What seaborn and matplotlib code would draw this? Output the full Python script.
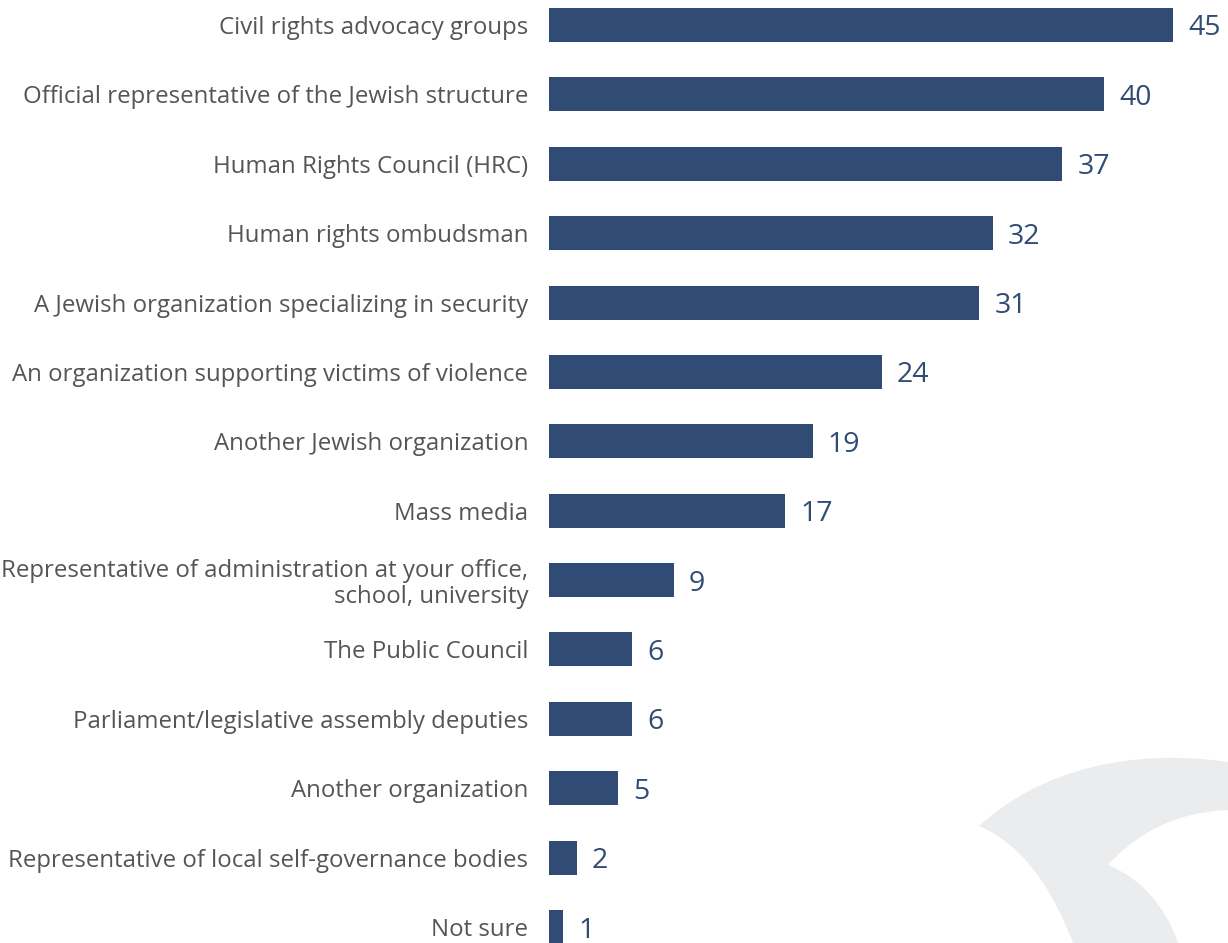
import numpy as np
import pandas as pd
import matplotlib
matplotlib.use("Agg")
from matplotlib import pyplot as plt
from matplotlib.patches import PathPatch
from matplotlib.path import Path
import seaborn as sns

categories = [
    "Civil rights advocacy groups",
    "Official representative of the Jewish structure",
    "Human Rights Council (HRC)",
    "Human rights ombudsman",
    "A Jewish organization specializing in security",
    "An organization supporting victims of violence",
    "Another Jewish organization",
    "Mass media",
    "Representative of administration at your office,\nschool, university",
    "The Public Council",
    "Parliament/legislative assembly deputies",
    "Another organization",
    "Representative of local self-governance bodies",
    "Not sure",
]
values = [45, 40, 37, 32, 31, 24, 19, 17, 9, 6, 6, 5, 2, 1]

df = pd.DataFrame({"category": categories, "value": values})

sns.set_theme(style="white")
plt.rcParams["font.family"] = ["Open Sans", "DejaVu Sans"]

bar_color = "#314c74"
label_color = "#555555"

fig = plt.figure(figsize=(12.28, 9.43), dpi=100)

# faint decorative shape in the corner
deco = fig.add_axes([0, 0, 1, 1], zorder=0)
deco.set_xlim(0, 1228)
deco.set_ylim(943, 0)
deco.axis("off")
verts = [(979, 826), (1040, 770), (1130, 748), (1228, 762),
         (1228, 810), (1180, 812), (1140, 830), (1108, 865),
         (1140, 878), (1165, 905), (1178, 943), (1073, 943),
         (1055, 895), (1025, 845), (979, 826)]
codes = [Path.MOVETO, Path.CURVE4, Path.CURVE4, Path.CURVE4,
         Path.LINETO, Path.CURVE4, Path.CURVE4, Path.CURVE4,
         Path.CURVE4, Path.CURVE4, Path.CURVE4, Path.LINETO,
         Path.CURVE4, Path.CURVE4, Path.CURVE4]
deco.add_patch(PathPatch(Path(verts, codes), facecolor="#ebecee", edgecolor="none"))

ax = fig.add_axes([549 / 1228, 0, 1 - 549 / 1228, 1], zorder=1)
ax.patch.set_alpha(0)
sns.barplot(data=df, x="value", y="category", orient="h", color=bar_color,
            width=0.49, saturation=1, linewidth=0, ax=ax)

ax.set_xlim(0, 48.96)
ax.set_ylim(13.23, -0.36)
texts = ax.bar_label(ax.containers[0], padding=11, fontsize=20.5, color=bar_color)
for t in texts:
    t.set_verticalalignment("center_baseline")

ax.set_xlabel("")
ax.set_ylabel("")
ax.set_xticks([])
ax.tick_params(axis="y", length=0, pad=15, labelsize=17.3, labelcolor=label_color)
for lbl in ax.get_yticklabels():
    lbl.set_horizontalalignment("right")
    lbl.set_multialignment("right")
    lbl.set_linespacing(1.1)
sns.despine(ax=ax, left=True, bottom=True)

fig.savefig("out.png", dpi=100)
